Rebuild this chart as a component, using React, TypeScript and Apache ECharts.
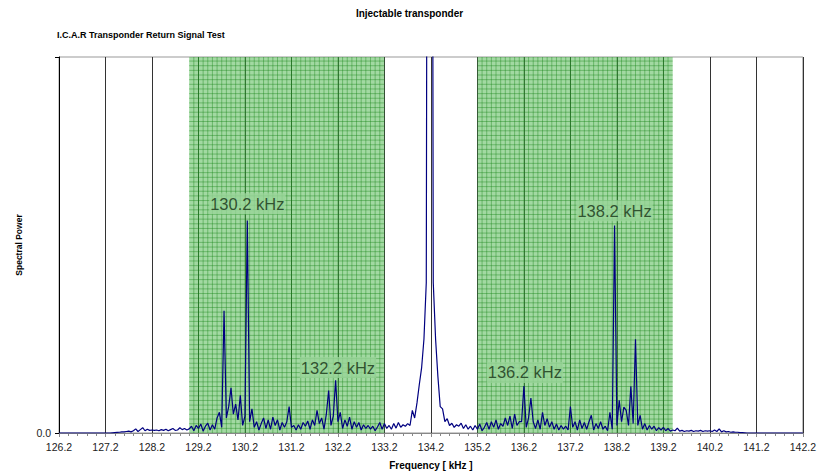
import React, { useEffect, useRef } from "react";
import * as echarts from "echarts";

// Frequency sampling of the spectrum (kHz)
const FREQ_START = 126.2;
const FREQ_END = 142.2;
const FREQ_STEP = 0.05;

// Tick labels on the frequency axis
const freqTicks = [
  "126.2", "127.2", "128.2", "129.2", "130.2", "131.2", "132.2", "133.2", "134.2",
  "135.2", "136.2", "137.2", "138.2", "139.2", "140.2", "141.2", "142.2",
];

// Spectral power, one value every 0.05 kHz from 126.2 kHz (20 values per row = 1 kHz)
const power = [
  // 126.2
  0, 0, 0, 0, 0, 0, 0, 0, 0, 0, 0, 0, 0, 0, 0, 0, 0, 0, 0, 0,
  // 127.2
  0, 0, 0, 0.05, 0.1, 0.15, 0.2, 0.3, 0.3, 0.4, 0.5, 0.3, 0.6, 1.1, 0.4, 0.9, 1.4, 0.6, 1.0, 0.7,
  // 128.2
  0.8, 0.7, 0.8, 0.6, 0.9, 0.7, 1.0, 0.6, 0.9, 1.2, 0.7, 0.8, 1.4, 0.9, 1.2, 0.8, 1.1, 1.8, 0.6, 2.0,
  // 129.2
  1.2, 2.4, 0.5, 1.8, 2.6, 0.8, 2.2, 1.0, 4.0, 5.5, 1.5, 32.5, 4.0, 7.0, 12.0, 5.0, 7.7, 3.5, 10.0, 2.0,
  // 130.2
  4.5, 56.5, 3.0, 6.4, 1.5, 3.0, 0.8, 2.5, 4.0, 1.2, 3.5, 1.0, 4.2, 2.0, 3.5, 0.8, 2.8, 1.5, 3.0, 7.0,
  // 131.2
  1.5, 2.0, 0.8, 2.2, 1.0, 2.8, 1.8, 3.2, 1.0, 3.5, 2.0, 6.0, 2.5, 4.0, 1.0, 5.0, 11.3, 2.0, 4.5, 14.0,
  // 132.2
  3.0, 5.5, 1.2, 3.5, 1.8, 4.2, 1.0, 3.0, 1.5, 2.8, 0.8, 2.2, 1.2, 2.0, 1.0, 1.8, 0.6, 1.6, 2.8, 1.0,
  // 133.2
  2.5, 1.2, 2.0, 1.0, 2.5, 1.3, 2.8, 1.5, 2.2, 1.8, 2.5, 2.0, 6.0, 4.0, 8.0, 12.9, 17.4, 25, 40, 400,
  // 134.2
  400, 40, 25, 15, 7, 6.4, 3.0, 3.8, 2.0, 2.6, 1.5, 2.2, 1.8, 2.6, 1.2, 2.2, 1.0, 1.8, 0.8, 2.0,
  // 135.2
  1.0, 2.4, 0.6, 1.5, 2.8, 1.0, 3.0, 1.5, 3.5, 1.0, 2.5, 1.8, 4.0, 2.0, 4.5, 1.2, 5.0, 2.0, 3.0, 3.0,
  // 136.2
  12.5, 1.5, 4.0, 9.3, 3.0, 1.2, 3.5, 1.0, 5.5, 2.0, 3.8, 1.5, 3.0, 1.0, 2.4, 0.8, 2.0, 1.0, 1.8, 0.8,
  // 137.2
  7.0, 1.5, 3.0, 0.8, 3.5, 1.2, 2.8, 1.0, 3.0, 4.7, 0.8, 2.5, 1.2, 3.0, 1.0, 1.8, 0.6, 5.5, 1.0, 55.2,
  // 138.2
  2.0, 8.7, 3.0, 6.9, 6.0, 2.0, 12.4, 2.5, 24.9, 2.0, 4.7, 1.0, 2.5, 0.8, 2.0, 1.0, 1.8, 0.6, 1.4, 0.8,
  // 139.2
  1.5, 0.6, 1.2, 0.5, 0.8, 0.6, 1.3, 0.5, 0.7, 0.4, 0.6, 0.5, 0.7, 0.4, 0.6, 0.5, 0.7, 0.4, 0.6, 0.5,
  // 140.2
  0.6, 0.4, 0.8, 0.4, 1.1, 0.3, 0.6, 0.3, 0.4, 0.2, 0.3, 0.2, 0.2, 0.1, 0.1, 0.05, 0, 0, 0, 0,
  // 141.2
  0, 0, 0, 0, 0, 0, 0, 0, 0, 0, 0, 0, 0, 0, 0, 0, 0, 0, 0, 0,
  // 142.2
  0,
];

// Highlighted sideband regions (kHz)
const bandStarts = [129.0, 135.2];
const bandEnds = [133.2, 139.4];

// Peak annotations: label, frequency (kHz), power level of label centre
const peakNames = ["130.2 kHz", "132.2 kHz", "136.2 kHz", "138.2 kHz"];
const peakFreqs = [130.25, 132.2, 136.22, 138.15];
const peakLevels = [61, 17.4, 16.1, 59.1];

const Y_MAX = 100;

export default function App() {
  const ref = useRef<HTMLDivElement>(null);

  useEffect(() => {
    document.body.style.margin = "0";
    if (!ref.current) return;
    const chart = echarts.init(ref.current, undefined, { renderer: "svg" });

    const lineData = power.map((p, i) => [i * FREQ_STEP, p]);
    const bandData = bandStarts.map((s, i) => [s - FREQ_START, bandEnds[i] - FREQ_START]);
    const labelData = peakNames.map((n, i) => ({
      name: n,
      value: [peakFreqs[i] - FREQ_START, peakLevels[i]],
    }));

    const font = "Arial, 'Liberation Sans', Helvetica, sans-serif";

    chart.setOption({
      animation: false,
      title: [
        {
          text: "Injectable transponder",
          left: "center",
          top: 3,
          textStyle: { fontSize: 10, fontWeight: "bold", color: "#000", fontFamily: font },
        },
        {
          text: "I.C.A.R Transponder Return Signal Test",
          left: 52,
          top: 25,
          textStyle: { fontSize: 9, fontWeight: "bold", color: "#000", fontFamily: font },
        },
      ],
      grid: {
        left: 59,
        right: 12,
        top: 57,
        bottom: 39,
        show: true,
        borderColor: "#999",
        borderWidth: 1,
        backgroundColor: "transparent",
      },
      xAxis: {
        type: "value",
        min: 0,
        max: FREQ_END - FREQ_START,
        interval: 1,
        name: "Frequency [ kHz ]",
        nameLocation: "middle",
        nameGap: 27,
        nameTextStyle: { fontSize: 10, fontWeight: "bold", color: "#000", fontFamily: font },
        axisLine: { show: true, onZero: false, lineStyle: { color: "#888", width: 1 } },
        axisTick: { show: true, length: 4, lineStyle: { color: "#888" } },
        minorTick: { show: true, splitNumber: 5, length: 3, lineStyle: { color: "#888" } },
        axisLabel: {
          fontSize: 10.5,
          color: "#222",
          fontFamily: font,
          margin: 8,
          formatter: (v: number) => freqTicks[Math.round(v)] ?? "",
        },
        splitLine: { show: true, lineStyle: { color: "#333", width: 1 } },
      },
      yAxis: {
        type: "value",
        min: 0,
        max: Y_MAX,
        interval: Y_MAX,
        name: "Spectral Power",
        nameLocation: "middle",
        nameGap: 36,
        nameTextStyle: { fontSize: 8.5, fontWeight: "bold", color: "#000", fontFamily: font },
        axisLine: { show: true, lineStyle: { color: "#000", width: 1 } },
        axisTick: { show: true, length: 4, lineStyle: { color: "#000" } },
        axisLabel: {
          fontSize: 10.5,
          color: "#222",
          fontFamily: font,
          margin: 8,
          formatter: (v: number) => (v === 0 ? "0.0" : ""),
        },
        splitLine: { show: false },
      },
      series: [
        {
          type: "custom",
          z: 1,
          silent: true,
          encode: { x: [0, 1] },
          data: bandData,
          clip: true,
          renderItem: (params: any, api: any) => {
            const cs = params.coordSys;
            const p0 = api.coord([api.value(0), 0]);
            const p1 = api.coord([api.value(1), 0]);
            const left = p0[0];
            const right = p1[0];
            const step = api.size([0.1, 0])[0];
            const children: any[] = [
              {
                type: "rect",
                shape: { x: left, y: cs.y, width: right - left, height: cs.height },
                style: { fill: "rgba(70,180,70,0.5)" },
              },
            ];
            for (let x = left + step; x < right - 0.5; x += step) {
              children.push({
                type: "line",
                shape: { x1: x, y1: cs.y, x2: x, y2: cs.y + cs.height },
                style: { stroke: "rgba(20,130,20,0.5)", lineWidth: 0.8 },
              });
            }
            for (let y = cs.y + cs.height - step; y > cs.y + 0.5; y -= step) {
              children.push({
                type: "line",
                shape: { x1: left, y1: y, x2: right, y2: y },
                style: { stroke: "rgba(20,130,20,0.5)", lineWidth: 0.8 },
              });
            }
            return { type: "group", children };
          },
        },
        {
          type: "line",
          z: 3,
          data: lineData,
          showSymbol: false,
          symbol: "none",
          clip: true,
          lineStyle: { color: "#000080", width: 1.2 },
        },
        {
          type: "scatter",
          z: 4,
          silent: true,
          symbolSize: 0,
          data: labelData,
          label: {
            show: true,
            position: "inside",
            formatter: (p: any) => p.name,
            fontSize: 16.5,
            fontFamily: font,
            color: "#143014",
            backgroundColor: "#98d498",
            padding: [2, 1],
          },
        },
      ],
    });

    return () => chart.dispose();
  }, []);

  return <div ref={ref} style={{ width: 819, height: 475 }} />;
}
